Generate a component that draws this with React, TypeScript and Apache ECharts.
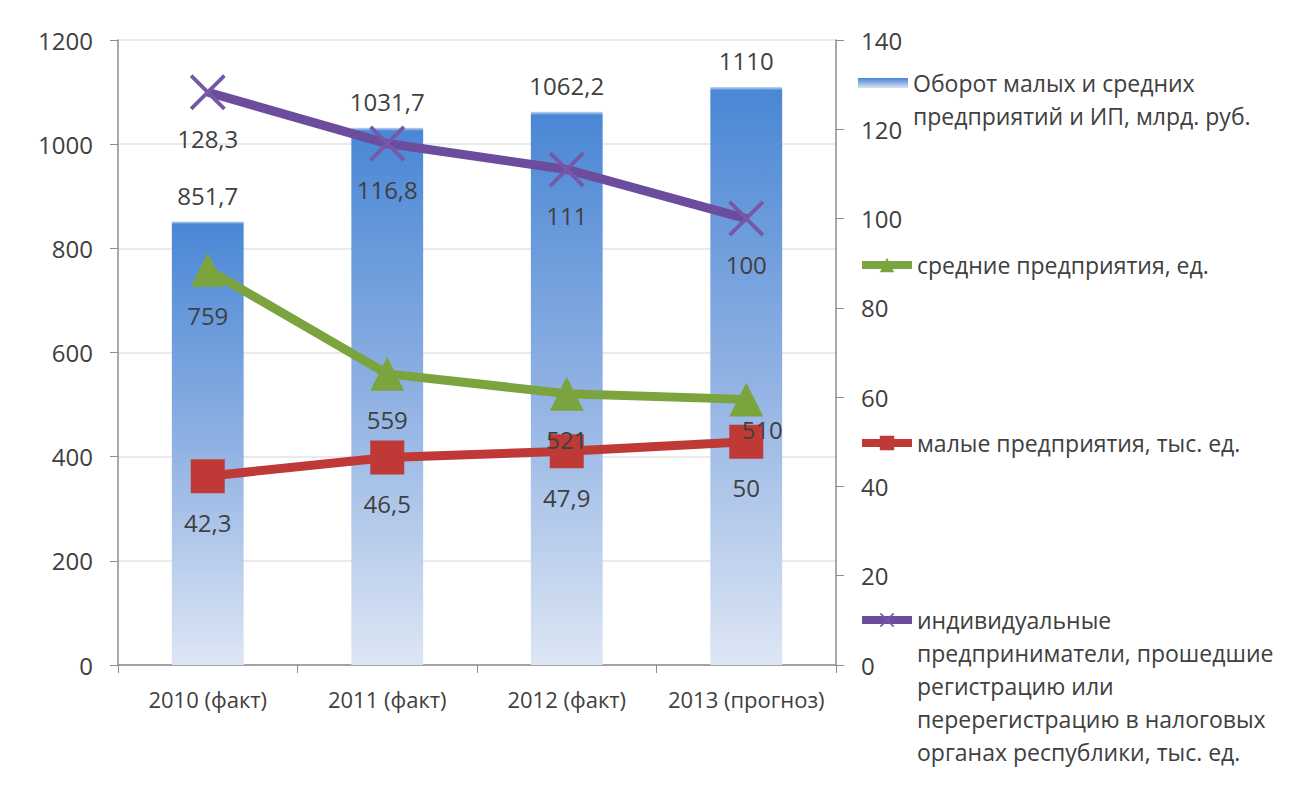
import React, { useEffect, useRef } from "react";
import * as echarts from "echarts";

const categories = ["2010 (факт)", "2011 (факт)", "2012 (факт)", "2013 (прогноз)"];
const turnover = [851.7, 1031.7, 1062.2, 1110];
const mediumEnterprises = [759, 559, 521, 510];
const smallEnterprises = [42.3, 46.5, 47.9, 50];
const individualEntrepreneurs = [128.3, 116.8, 111, 100];

const nameTurnover = "Оборот малых и средних предприятий и ИП, млрд. руб.";
const nameMedium = "средние предприятия, ед.";
const nameSmall = "малые предприятия, тыс. ед.";
const nameIndividual =
  "индивидуальные предприниматели, прошедшие регистрацию или перерегистрацию в налоговых органах республики, тыс. ед.";

const legendLines: Record<string, string[]> = {
  [nameTurnover]: ["Оборот малых и средних", "предприятий и ИП, млрд. руб."],
  [nameMedium]: ["средние предприятия, ед."],
  [nameSmall]: ["малые предприятия, тыс. ед."],
  [nameIndividual]: [
    "индивидуальные",
    "предприниматели, прошедшие",
    "регистрацию или",
    "перерегистрацию в налоговых",
    "органах республики, тыс. ед.",
  ],
};

const FONT = "Open Sans";
const TEXT = "#404040";
const LH = 33;
const fmt = (v: number) => String(v).replace(".", ",");
const crossPath =
  "path://M0,1.5 L1.5,0 L10,8.5 L18.5,0 L20,1.5 L11.5,10 L20,18.5 L18.5,20 L10,11.5 L1.5,20 L0,18.5 L8.5,10 Z";

function makeLegend(name: string, iconMid: number, itemHeight: number, extra: any = {}) {
  const n = legendLines[name].length;
  const H = (2 * n - 1) * LH;
  return {
    data: [name],
    left: 858,
    top: iconMid - H / 2,
    padding: 0,
    itemWidth: 50,
    itemHeight,
    selectedMode: false,
    formatter: (nm: string) => {
      const lines = legendLines[nm];
      return "\n".repeat(lines.length - 1) + lines.join("\n");
    },
    textStyle: {
      fontFamily: FONT,
      fontSize: 23,
      color: TEXT,
      lineHeight: LH,
    },
    lineStyle: { width: 8 },
    ...extra,
  };
}

export default function App() {
  const ref = useRef<HTMLDivElement>(null);
  useEffect(() => {
    if (!ref.current) return;
    const chart = echarts.init(ref.current, undefined, { renderer: "svg" });
    const barGradient = new echarts.graphic.LinearGradient(0, 0, 0, 1, [
      { offset: 0, color: "#c9dcf3" },
      { offset: 0.006, color: "#4a87d5" },
      { offset: 0.5, color: "#8fb1e3" },
      { offset: 1, color: "#dde6f4" },
    ]);
    const lineLabel = (dist: number) => ({
      show: true,
      position: "bottom",
      distance: dist,
      color: TEXT,
      fontFamily: FONT,
      fontSize: 24,
      formatter: (p: any) => fmt(p.value),
    });
    const axisNum = (v: number) => String(v);
    chart.setOption({
      animation: false,
      backgroundColor: "#ffffff",
      textStyle: { fontFamily: FONT },
      grid: { left: 118, right: 453, top: 40, bottom: 144, containLabel: false },
      legend: [
        makeLegend(nameTurnover, 83, 10, { icon: "rect" }),
        makeLegend(nameMedium, 265, 18),
        makeLegend(nameSmall, 443, 18),
        makeLegend(nameIndividual, 620, 18),
      ],
      xAxis: {
        type: "category",
        data: categories,
        axisLine: { lineStyle: { color: "#8c8c8c", width: 1.5 } },
        axisTick: { show: true, length: 8, lineStyle: { color: "#8c8c8c" } },
        axisLabel: {
          color: TEXT,
          fontFamily: FONT,
          fontSize: 22,
          margin: 23,
          interval: 0,
        },
      },
      yAxis: [
        {
          type: "value",
          min: 0,
          max: 1200,
          interval: 200,
          axisLine: { show: true, lineStyle: { color: "#8c8c8c", width: 1.5 } },
          axisTick: { show: true, length: 8, lineStyle: { color: "#8c8c8c" } },
          axisLabel: { color: TEXT, fontFamily: FONT, fontSize: 24, margin: 25, formatter: axisNum },
          splitLine: { show: true, lineStyle: { color: "#e3e3e3", width: 1.5 } },
        },
        {
          type: "value",
          min: 0,
          max: 140,
          interval: 20,
          position: "right",
          axisLine: { show: true, lineStyle: { color: "#8c8c8c", width: 1.5 } },
          axisTick: { show: true, length: 8, lineStyle: { color: "#8c8c8c" } },
          axisLabel: { color: TEXT, fontFamily: FONT, fontSize: 24, margin: 25, formatter: axisNum },
          splitLine: { show: false },
        },
      ],
      series: [
        {
          name: nameTurnover,
          type: "bar",
          yAxisIndex: 0,
          data: turnover,
          barWidth: "40%",
          itemStyle: { color: barGradient },
          label: {
            show: true,
            position: "top",
            distance: 14,
            color: TEXT,
            fontFamily: FONT,
            fontSize: 24,
            formatter: (p: any) => fmt(p.value),
          },
          z: 1,
        },
        {
          name: nameMedium,
          type: "line",
          yAxisIndex: 0,
          data: mediumEnterprises.map((v, i) =>
            i === 3 ? { value: v, label: { offset: [16, -16] } } : v
          ),
          symbol: "triangle",
          symbolSize: 34,
          itemStyle: { color: "#7ca43e" },
          lineStyle: { color: "#7ca43e", width: 9 },
          label: lineLabel(17),
          z: 3,
        },
        {
          name: nameSmall,
          type: "line",
          yAxisIndex: 1,
          data: smallEnterprises,
          symbol: "rect",
          symbolSize: 34,
          itemStyle: { color: "#bf3a36" },
          lineStyle: { color: "#bf3a36", width: 9 },
          label: lineLabel(17),
          z: 3,
        },
        {
          name: nameIndividual,
          type: "line",
          yAxisIndex: 1,
          data: individualEntrepreneurs,
          symbol: crossPath,
          symbolSize: 36,
          itemStyle: { color: "#7657a8" },
          lineStyle: { color: "#6c4c9c", width: 9 },
          label: lineLabel(16),
          z: 4,
        },
      ],
    });
    return () => chart.dispose();
  }, []);
  return (
    <div
      ref={ref}
      style={{ position: "absolute", left: 0, top: 0, width: 1289, height: 809 }}
    />
  );
}
